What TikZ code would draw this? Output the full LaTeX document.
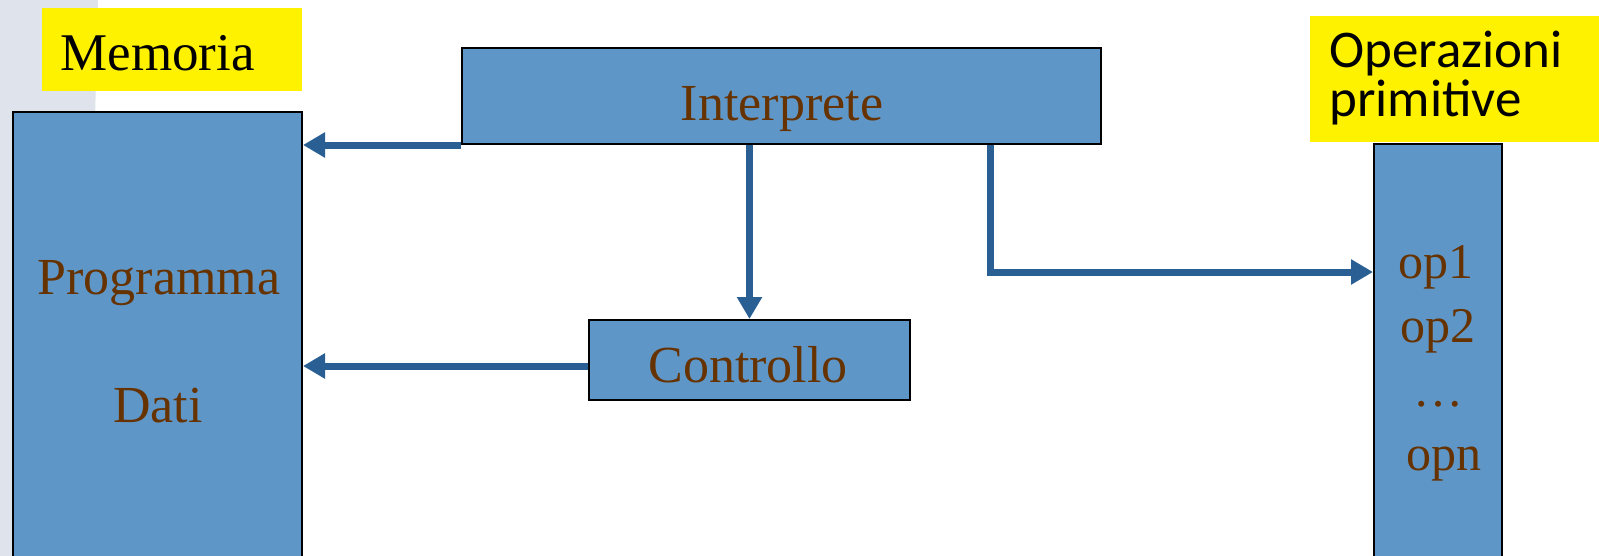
\documentclass[tikz,border=0pt]{standalone}
\usepackage{fontspec}
\setmainfont{Liberation Serif}
\newfontfamily\labelfont{Carlito}
\usetikzlibrary{arrows.meta}

\definecolor{boxblue}{HTML}{5F96C8}
\definecolor{arrowblue}{HTML}{2A5F94}
\definecolor{textbrown}{HTML}{663300}
\definecolor{stripgrey}{HTML}{DFE3EB}

\begin{document}
\begin{tikzpicture}[x=0.5pt,y=-0.5pt,
    block/.style={draw=black,line width=1pt,fill=boxblue,inner sep=0pt},
    tag/.style={fill=yellow,inner sep=0pt},
    txt/.style={text=textbrown,font=\fontsize{26}{31}\selectfont,anchor=base,inner sep=0pt},
    flow/.style={draw=arrowblue,line width=3.5pt,-{Triangle[length=11pt,width=12pt]}}]

\clip (0,0) rectangle (1599,556);
\fill[white] (0,0) rectangle (1599,556);
\fill[stripgrey] (0,0) -- (98,0) -- (84,556) -- (0,556) -- cycle;

% Memory block
\node[tag,minimum width=130pt,minimum height=41.5pt] (memtag) at (172,49.5) {};
\node[anchor=base west,inner sep=0pt,font=\fontsize{26.5}{32}\selectfont] (memlabel) at (60,71) {Memoria};
\node[block,minimum width=144.5pt,minimum height=254pt] (mem) at (157.5,366) {};
\node[txt] (prog) at (159,294) {Programma};
\node[txt] (dati) at (158,422) {Dati};

% Interpreter and control
\node[block,minimum width=319.5pt,minimum height=48pt] (interp) at (781.5,96) {};
\node[txt] (interplabel) at (782,120) {Interprete};
\node[block,minimum width=160.5pt,minimum height=40pt] (ctrl) at (749.5,360) {};
\node[txt] (ctrllabel) at (748,382) {Controllo};

% Primitive operations
\node[tag,minimum width=150pt,minimum height=63pt] (opstag) at (1460,79) {};
\node[anchor=base west,inner sep=0pt,font=\labelfont\fontsize{26.5}{32}\selectfont] (opslabel1) at (1329,68) {Operazioni};
\node[anchor=base west,inner sep=0pt,font=\labelfont\fontsize{26.5}{32}\selectfont] (opslabel2) at (1329,117) {primitive};
\node[block,minimum width=64pt,minimum height=238pt] (ops) at (1438,382) {};
\foreach \t/\x/\y [count=\i] in {op1/1436/278, op2/1438/342, \dots/1438/406, opn/1444/470}
    \node[txt,font=\fontsize{25}{30}\selectfont] (op\i) at (\x,\y) {\t};

% Connectors
\draw[flow] (interp.south west) -- (interp.south west -| mem.east);
\draw[flow] (ctrl.north |- interp.south) -- (ctrl.north);
\draw[flow] ([yshift=-3pt]ctrl.west) -- ([yshift=-3pt]ctrl.west -| mem.east);
\coordinate (bend) at (990,272);
\draw[flow] (bend |- interp.south) -- (bend) -- (bend -| ops.west);
\end{tikzpicture}
\end{document}
